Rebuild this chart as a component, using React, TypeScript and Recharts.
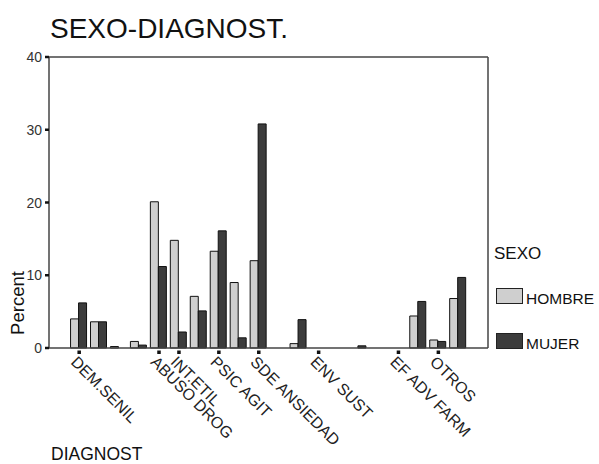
import React from 'react';
import { BarChart, Bar, XAxis, YAxis, Legend } from 'recharts';

// categorías del eje X (solo algunas llevan etiqueta en el original)
const categories = [
  '', 'DEM.SENIL', '', '', '', 'ABUSO DROG', 'INT.ETIL', '', 'PSIC AGIT', '',
  'SDE ANSIEDAD', '', '', 'ENV SUST', '', '', '', 'EF ADV FARM', '', 'OTROS', '', '',
];
const hombre = [0, 4.0, 3.6, 0.2, 0.9, 20.1, 14.8, 7.1, 13.3, 9.0, 12.0, 0, 0.6, 0, 0, 0, 0, 0, 4.4, 1.1, 6.8, 0];
const mujer = [0, 6.2, 3.6, 0, 0.4, 11.2, 2.2, 5.1, 16.1, 1.4, 30.8, 0, 3.9, 0, 0, 0.3, 0, 0, 6.4, 0.9, 9.7, 0];
const yTicks = [0, 10, 20, 30, 40];

const data = categories.map((cat, i) => ({ cat, idx: i, HOMBRE: hombre[i], MUJER: mujer[i] }));

const FONT = 'Arial, "Liberation Sans", sans-serif';
const LIGHT = '#cfcfcf';
const DARK = '#3c3c3c';
const AXIS = { stroke: '#444', strokeWidth: 1.5 };

const XTick = (props: any) => {
  const { x, y, payload } = props;
  const label = categories[payload.index] ?? payload.value;
  if (!label) return null;
  const tx = x - 9;
  const ty = y + 15;
  return (
    <g>
      <rect x={x - 1.5} y={y + 2.5} width={3.5} height={3.5} fill="#111" />
      <text x={tx} y={ty} transform={`rotate(45 ${tx} ${ty})`} fontSize={16} fontFamily={FONT} fill="#222">
        {label}
      </text>
    </g>
  );
};

const YTick = (props: any) => {
  const { x, y, payload } = props;
  return (
    <text x={x} y={y + 5} textAnchor="end" fontSize={14} fontFamily={FONT} fill="#333">
      {payload.value}
    </text>
  );
};

const renderLegend = (props: any) => {
  const { payload } = props;
  return (
    <div style={{ position: 'relative', width: 103, height: 110, fontFamily: FONT, color: '#111' }}>
      <div style={{ position: 'absolute', left: 0, top: 0, fontSize: 17, lineHeight: '20px' }}>SEXO</div>
      {payload.map((entry: any, i: number) => (
        <div key={entry.value} style={{ position: 'absolute', left: 2, top: 40 + i * 45, height: 20 }}>
          <div style={{
            position: 'absolute', left: 0, top: 4, width: 27, height: 16,
            background: entry.color, border: '1px solid #222', boxSizing: 'border-box',
          }} />
          <span style={{ position: 'absolute', left: 30, top: 6, fontSize: 15.5, lineHeight: '18px' }}>
            {entry.value}
          </span>
        </div>
      ))}
    </div>
  );
};

export default function App() {
  return (
    <div style={{ position: 'relative', width: 599, height: 464, background: '#fff' }}>
      <style>{`body{margin:0}`}</style>
      <BarChart
        width={599}
        height={464}
        data={data}
        margin={{ top: 56, right: 110, left: 9, bottom: 6 }}
        barGap={0}
        barCategoryGap="8%"
      >
        <text x={50} y={38} fontSize={28} fontFamily={FONT} fill="#111">SEXO-DIAGNOST.</text>
        <text x={51} y={460} fontSize={17.5} fontFamily={FONT} fill="#111">DIAGNOST</text>
        <text x={17} y={303} fontSize={18.5} fontFamily={FONT} fill="#111" textAnchor="middle"
          transform="rotate(-90 17 303)" dominantBaseline="central">Percent</text>

        <XAxis
          dataKey="idx"
          interval={0}
          height={110}
          tickLine={false}
          tickSize={0}
          tickMargin={0}
          tick={<XTick />}
          axisLine={AXIS}
        />
        <XAxis xAxisId="top" orientation="top" dataKey="idx" height={1} tick={false} tickLine={false} axisLine={AXIS} />
        <YAxis
          domain={[0, 40]}
          ticks={yTicks}
          width={40}
          tickSize={4}
          tickMargin={3}
          tickLine={{ stroke: '#111', strokeWidth: 2.5 }}
          tick={<YTick />}
          axisLine={AXIS}
        />
        <YAxis yAxisId="right" orientation="right" domain={[0, 40]} width={1} tick={false} tickLine={false} axisLine={AXIS} />

        <Legend
          layout="vertical"
          align="center"
          verticalAlign="middle"
          content={renderLegend}
          wrapperStyle={{ left: 494, top: 244, width: 105 }}
        />

        <Bar dataKey="HOMBRE" fill={LIGHT} stroke="#111" strokeWidth={1} isAnimationActive={false} />
        <Bar dataKey="MUJER" fill={DARK} stroke="#111" strokeWidth={1} isAnimationActive={false} />
      </BarChart>
    </div>
  );
}
